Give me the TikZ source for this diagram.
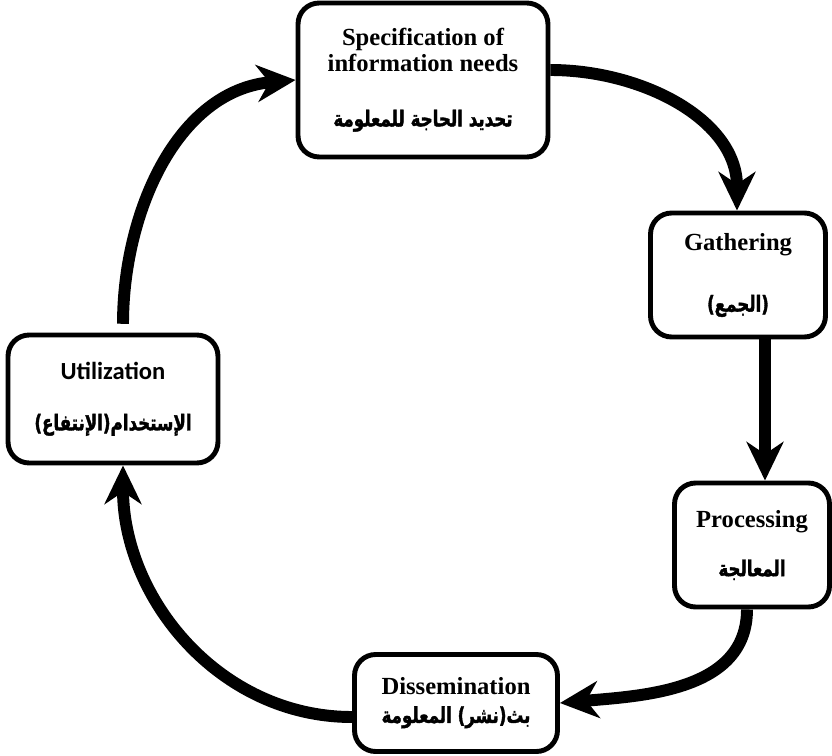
\documentclass[tikz,border=0pt]{standalone}
\usepackage{fontspec}
\setmainfont{Liberation Serif}
\newfontfamily\carlito{Carlito}
\newfontfamily\arabicfont[Script=Arabic, FakeStretch=0.76, FakeBold=1.6]{DejaVu Sans Bold}
\TeXXeTstate=1
\usetikzlibrary{arrows.meta,calc}
\newcommand{\artext}[1]{{\arabicfont\fontsize{12.5}{14}\selectfont\beginR #1\endR}}
\begin{document}
\begin{tikzpicture}[x=0.02cm, y=0.02cm,
	box/.style = {draw, line width=2.8pt, rounded corners=12pt, align=center, font=\bfseries\fontsize{14}{15}\selectfont},
	flow/.style = {line width=6.8pt, -{Stealth[length=22pt, width=21pt, inset=7pt]}}]
		\useasboundingbox (0,0) rectangle (832,755);

		\node[box, minimum width=5cm, minimum height=3.08cm] (spec) at (423,675) {Specification of\\ information needs\\[16pt] \artext{تحديد الحاجة للمعلومة}};
		\node[box, minimum width=3.5cm, minimum height=2.48cm] (gath) at (738,480) {Gathering\\[20pt] \artext{(الجمع)}};
		\node[box, minimum width=3.1cm, minimum height=2.48cm] (proc) at (752,210) {Processing\\[13pt] \artext{المعالجة}};
		\node[box, minimum width=4.06cm, minimum height=1.94cm] (diss) at (456,52) {Dissemination\\[1pt] \artext{بث(نشر) المعلومة}};
		\node[box, minimum width=4.2cm, minimum height=2.56cm] (util) at (113,356) {{\carlito\bfseries Utilization}\\[14pt] \artext{الإستخدام(الإنتفاع)}};

		\coordinate (gp) at ($(gath.south)+(27,0)$);
		\draw[flow] ($(spec.east)+(0,10)$) to[out=0, in=90] ($(gath.north)+(-1,0)$);
		\draw[flow] (gp) -- (gp |- proc.north);
		\draw[flow] ($(proc.south)+(-5,0)$) to[out=-90, in=5] (diss.east);
		\draw[flow] ($(diss.west)+(0,-14)$) to[out=180, in=-90] ($(util.south)+(10,0)$);
		\draw[flow, shorten <=5pt] ($(util.north)+(10,0)$) to[out=90, in=185] (spec.west);
	\end{tikzpicture}
\end{document}
